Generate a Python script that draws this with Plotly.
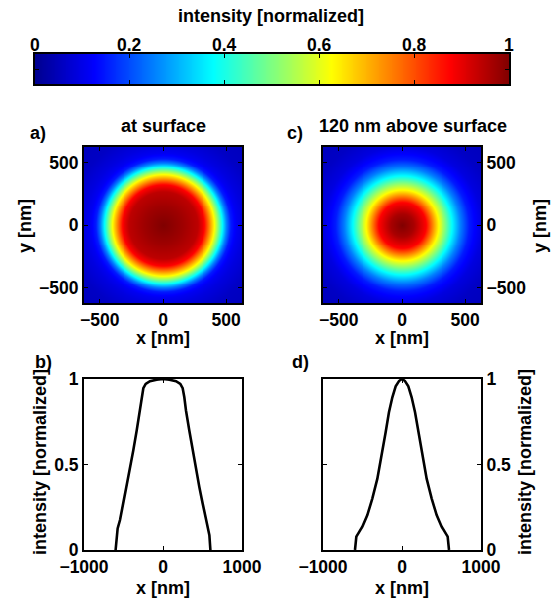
import numpy as np
import plotly.graph_objects as go

W, H = 559, 601

# colour bar ticks
cbar_ticks = [0, 0.2, 0.4, 0.6, 0.8, 1]
cbar_labels = ["0", "0.2", "0.4", "0.6", "0.8", "1"]

# radial intensity of the two maps (r in nm, intensity normalized)
r_surface = [0, 150, 270, 325, 365, 405, 437, 468, 500, 535, 580, 630, 750, 900]
i_surface = [1.0, 0.97, 0.94, 0.875, 0.75, 0.625, 0.5, 0.375, 0.25, 0.15, 0.11, 0.09, 0.06, 0.05]
r_above = [0, 90, 185, 235, 285, 340, 395, 460, 530, 630, 750, 900]
i_above = [1.0, 0.96, 0.875, 0.75, 0.625, 0.5, 0.375, 0.25, 0.15, 0.09, 0.06, 0.05]

# line cuts through the spot centre
x_cut_surface = [-600, -587, -574, -544, -502, -460, -418, -376, -333, -291, -270, -249, -219, -165, -80, 0,
                 80, 165, 219, 249, 270, 291, 333, 376, 418, 460, 502, 544, 574, 587, 600]
i_cut_surface = [0.0, 0.087, 0.126, 0.175, 0.272, 0.369, 0.476, 0.583, 0.699, 0.816, 0.893, 0.946, 0.971, 0.987, 0.996, 1.0,
                 0.996, 0.987, 0.971, 0.946, 0.893, 0.816, 0.699, 0.583, 0.476, 0.369, 0.272, 0.175, 0.126, 0.087, 0.0]
x_cut_above = [-595, -578, -553, -502, -439, -376, -312, -249, -207, -165, -122, -80, -38, 0,
               38, 80, 122, 165, 207, 249, 312, 376, 439, 502, 553, 578, 595]
i_cut_above = [0.0, 0.078, 0.097, 0.136, 0.204, 0.301, 0.417, 0.573, 0.689, 0.806, 0.893, 0.957, 0.988, 1.0,
               0.988, 0.957, 0.893, 0.806, 0.689, 0.573, 0.417, 0.301, 0.204, 0.136, 0.097, 0.078, 0.0]

map_ticks = [-500, 0, 500]
map_range = [-625, 625]
cut_xticks = [-1000, 0, 1000]
cut_yticks = [0, 0.5, 1]
cut_ylabels = ["0", "0.5", "1"]

jet = [[0.0, "rgb(0,0,143)"], [0.125, "rgb(0,0,255)"], [0.375, "rgb(0,255,255)"],
       [0.625, "rgb(255,255,0)"], [0.875, "rgb(255,0,0)"], [1.0, "rgb(128,0,0)"]]

FONT = "Liberation Sans, Arial, sans-serif"
TICK_SIZE = 17.5
TITLE_SIZE = 18


def xdom(x0, x1):
    return [x0 / W, x1 / W]


def ydom(y0, y1):
    return [1 - y1 / H, 1 - y0 / H]


def radial_map(r_pts, i_pts, n=161):
    g = np.linspace(map_range[0], map_range[1], n)
    gx, gy = np.meshgrid(g, g)
    return g, np.interp(np.hypot(gx, gy), r_pts, i_pts)


fig = go.Figure()

# colour bar drawn as a one-row image
levels = np.linspace(0, 1, 257)
fig.add_trace(go.Heatmap(x=levels, y=[0.5], z=[levels], colorscale=jet, zmin=0, zmax=1,
                         showscale=False, zsmooth="best", xaxis="x", yaxis="y", hoverinfo="skip"))

g, z_surf = radial_map(r_surface, i_surface)
fig.add_trace(go.Heatmap(x=g, y=g, z=z_surf, colorscale=jet, zmin=0, zmax=1, showscale=False,
                         zsmooth="best", xaxis="x2", yaxis="y2"))
g, z_above = radial_map(r_above, i_above)
fig.add_trace(go.Heatmap(x=g, y=g, z=z_above, colorscale=jet, zmin=0, zmax=1, showscale=False,
                         zsmooth="best", xaxis="x3", yaxis="y3"))

line = dict(color="black", width=2.6)
fig.add_trace(go.Scatter(x=x_cut_surface, y=i_cut_surface, mode="lines", line=line,
                         xaxis="x4", yaxis="y4", showlegend=False))
fig.add_trace(go.Scatter(x=x_cut_above, y=i_cut_above, mode="lines", line=line,
                         xaxis="x5", yaxis="y5", showlegend=False))

base = dict(showgrid=False, zeroline=False, showline=True, linecolor="black", linewidth=2,
            mirror="ticks", ticks="inside", ticklen=4, tickwidth=1, tickcolor="black",
            tickfont=dict(size=TICK_SIZE), fixedrange=True, automargin=False)

fig.update_layout(
    template="none",
    width=W, height=H, margin=dict(l=0, r=0, t=0, b=0, pad=0, autoexpand=False),
    paper_bgcolor="white", plot_bgcolor="white", showlegend=False,
    font=dict(family=FONT, color="black", weight="bold"),
    xaxis=dict(base, domain=xdom(35, 509), range=[0, 1], side="top", showticklabels=False,
               tickvals=cbar_ticks, anchor="y"),
    yaxis=dict(base, domain=ydom(54, 84), range=[0, 1], tickvals=[0.5],
               showticklabels=False, anchor="x"),
    xaxis2=dict(base, domain=xdom(84, 242), range=map_range, tickvals=map_ticks, anchor="y2"),
    yaxis2=dict(base, domain=ydom(147, 303), range=map_range, tickvals=map_ticks, anchor="x2"),
    xaxis3=dict(base, domain=xdom(323, 481), range=map_range, tickvals=map_ticks, anchor="y3"),
    yaxis3=dict(base, domain=ydom(147, 303), range=map_range, tickvals=map_ticks, anchor="x3",
                side="right"),
    xaxis4=dict(base, domain=xdom(84, 242), range=[-1000, 1000], tickvals=cut_xticks, anchor="y4"),
    yaxis4=dict(base, domain=ydom(379, 550), range=[0, 1], tickvals=cut_yticks,
                ticktext=cut_ylabels, anchor="x4"),
    xaxis5=dict(base, domain=xdom(323, 481), range=[-1000, 1000], tickvals=cut_xticks, anchor="y5"),
    yaxis5=dict(base, domain=ydom(379, 550), range=[0, 1], tickvals=cut_yticks,
                ticktext=cut_ylabels, anchor="x5", side="right"),
)

# colour bar tick labels, placed on the bar's own x scale just above the bar
for v, txt in zip(cbar_ticks, cbar_labels):
    fig.add_annotation(text=txt, x=v, xref="x", y=1 - 45 / H, yref="paper",
                       xanchor="center", yanchor="middle", showarrow=False,
                       font=dict(size=TICK_SIZE))


def label(text, x, y, angle=0, size=TITLE_SIZE):
    fig.add_annotation(text=text, x=x / W, y=1 - y / H, xref="paper", yref="paper",
                       xanchor="center", yanchor="middle", showarrow=False,
                       textangle=angle, font=dict(size=size))


label("intensity [normalized]", 271, 16)
label("at surface", 163, 126)
label("120 nm above surface", 412.5, 126)
label("a)", 38, 133)
label("c)", 295, 133)
label("b)", 43, 362)
label("d)", 300, 362)
for cx in (163, 402):
    label("x [nm]", cx, 338)
    label("x [nm]", cx, 588)
label("y [nm]", 25, 226, angle=-90)
label("y [nm]", 540, 226, angle=-90)
label("intensity [normalized]", 40, 462, angle=-90)
label("intensity [normalized]", 525, 462, angle=-90)

fig.write_html("out.html")
